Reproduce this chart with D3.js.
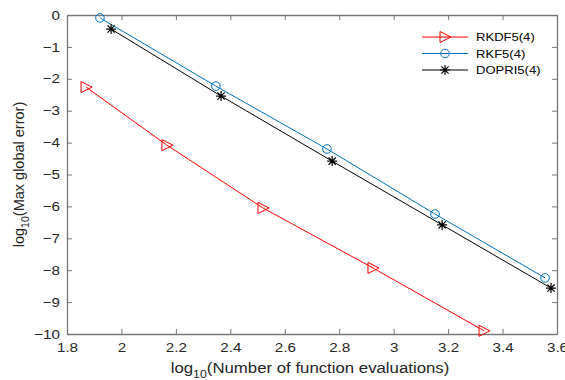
<!DOCTYPE html>
<html>
<head>
<meta charset="utf-8">
<script src="https://cdn.jsdelivr.net/npm/d3@7"></script>
<style>
  body { margin: 0; background: #fff; }
  text { font-family: "Liberation Sans", Arial, sans-serif; }
</style>
</head>
<body>
<div class="chart"></div>
<script>
// data (log10 values)
var rkdfX = [1.87, 2.167, 2.52, 2.924, 3.332];
var rkdfY = [-2.26, -4.08, -6.05, -7.93, -9.9];
var rkfX = [1.921, 2.347, 2.755, 3.152, 3.556];
var rkfY = [-0.09, -2.23, -4.2, -6.24, -8.24];
var dopriX = [1.962, 2.366, 2.774, 3.178, 3.578];
var dopriY = [-0.44, -2.54, -4.58, -6.58, -8.56];
var xTicks = [1.8, 2, 2.2, 2.4, 2.6, 2.8, 3, 3.2, 3.4, 3.6];
var yTicks = [0, -1, -2, -3, -4, -5, -6, -7, -8, -9, -10];
var seriesNames = ["RKDF5(4)", "RKF5(4)", "DOPRI5(4)"];

var svgWidth = 565, svgHeight = 380;
var margin = { top: 15, right: 8, bottom: 46, left: 67 };
var width = svgWidth - margin.left - margin.right;
var height = svgHeight - margin.top - margin.bottom;

// the reference looks a bit stretched sideways, so horizontal text is widened
var stretch = 1.17;

var svg = d3.select(".chart").append("svg")
  .attr("width", svgWidth)
  .attr("height", svgHeight);

var chartGroup = svg.append("g")
  .attr("transform", `translate(${margin.left}, ${margin.top})`);

var xScale = d3.scaleLinear().domain([1.8, 3.6]).range([0, width]);
var yScale = d3.scaleLinear().domain([-10, 0]).range([height, 0]);

var axisColor = "#777";

// axes (MATLAB style, ticks inside, box on)
function styleAxis(g, hideLabels) {
  g.select(".domain").attr("stroke", axisColor).attr("stroke-width", 1.3);
  g.selectAll(".tick line").attr("stroke", axisColor);
  g.selectAll(".tick text").attr("fill", "#262626").style("font-size", "13px");
  if (hideLabels) g.selectAll(".tick text").remove();
}

chartGroup.append("g")
  .attr("transform", `translate(0, ${height})`)
  .call(d3.axisBottom(xScale).tickValues(xTicks).tickSizeInner(-5).tickSizeOuter(0).tickPadding(9).tickFormat(d3.format("")))
  .call(g => styleAxis(g, false))
  .call(g => g.selectAll(".tick text").attr("transform", `scale(${stretch},1)`));

chartGroup.append("g")
  .call(d3.axisTop(xScale).tickValues(xTicks).tickSizeInner(-5).tickSizeOuter(0))
  .call(g => styleAxis(g, true));

chartGroup.append("g")
  .call(d3.axisLeft(yScale).tickValues(yTicks).tickSizeInner(-5).tickSizeOuter(0).tickPadding(7).tickFormat(d3.format("")))
  .call(g => styleAxis(g, false))
  .call(g => g.selectAll(".tick text").attr("x", -7 / stretch).attr("transform", `scale(${stretch},1)`));

chartGroup.append("g")
  .attr("transform", `translate(${width}, 0)`)
  .call(d3.axisRight(yScale).tickValues(yTicks).tickSizeInner(-5).tickSizeOuter(0))
  .call(g => styleAxis(g, true));

// markers
function triangle(sel) {
  sel.append("path").attr("d", "M-5,-5.5 L6,0 L-5,5.5 Z")
    .attr("fill", "none").attr("stroke", "#ff0000").attr("stroke-width", 1);
}
function circle(sel) {
  sel.append("circle").attr("r", 4.3)
    .attr("fill", "none").attr("stroke", "#0072bd").attr("stroke-width", 1);
}
function star(sel) {
  sel.append("path").attr("d", "M-5,0 L5,0 M0,-5 L0,5 M-3.6,-3.6 L3.6,3.6 M-3.6,3.6 L3.6,-3.6")
    .attr("stroke", "#000").attr("stroke-width", 1.2);
}

var series = [
  { xs: rkdfX, ys: rkdfY, color: "#ff0000", marker: triangle },
  { xs: rkfX, ys: rkfY, color: "#0072bd", marker: circle },
  { xs: dopriX, ys: dopriY, color: "#000000", marker: star }
];

var line = d3.line().x(d => xScale(d[0])).y(d => yScale(d[1]));

series.forEach(function(s) {
  var pts = s.xs.map((x, i) => [x, s.ys[i]]);
  chartGroup.append("path")
    .datum(pts)
    .attr("d", line)
    .attr("fill", "none")
    .attr("stroke", s.color)
    .attr("stroke-width", 1);
  chartGroup.selectAll(null)
    .data(pts)
    .enter()
    .append("g")
    .attr("transform", d => `translate(${xScale(d[0])}, ${yScale(d[1])})`)
    .each(function() { s.marker(d3.select(this)); });
});

// legend
var legend = svg.append("g").attr("transform", "translate(422, 37)");
series.forEach(function(s, i) {
  var row = legend.append("g").attr("transform", `translate(0, ${i * 16.5})`);
  row.append("line").attr("x1", 0).attr("x2", 46)
    .attr("stroke", s.color).attr("stroke-width", 1);
  row.append("g").attr("transform", "translate(23, 0)").call(s.marker);
  row.append("text")
    .attr("transform", `translate(54, 4) scale(${stretch * 0.97},1)`)
    .style("font-size", "11.5px").attr("fill", "#000")
    .text(seriesNames[i]);
});

// axis titles
var xLabel = svg.append("text")
  .attr("transform", `translate(${margin.left + width / 2 - 2}, 373) scale(1.12,1)`)
  .attr("text-anchor", "middle")
  .style("font-size", "15px")
  .attr("fill", "#262626");
xLabel.append("tspan").text("log");
xLabel.append("tspan").attr("dy", 5).style("font-size", "11px").text("10");
xLabel.append("tspan").attr("dy", -5).text("(Number of function evaluations)");

var yLabel = svg.append("text")
  .attr("transform", `translate(24, ${margin.top + height / 2}) rotate(-90)`)
  .attr("text-anchor", "middle")
  .style("font-size", "14.5px")
  .attr("fill", "#262626");
yLabel.append("tspan").text("log");
yLabel.append("tspan").attr("dy", 5).style("font-size", "10.5px").text("10");
yLabel.append("tspan").attr("dy", -5).text("(Max global error)");
</script>
</body>
</html>
